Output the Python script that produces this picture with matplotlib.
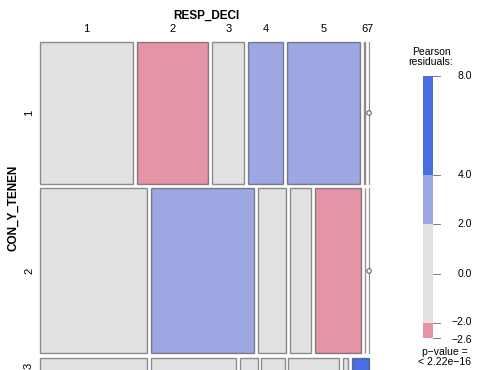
import matplotlib
matplotlib.use("Agg")
import matplotlib.pyplot as plt
from matplotlib.patches import Rectangle, Circle
import numpy as np

plt.rcParams["font.family"] = ["Liberation Sans", "DejaVu Sans"]

# ---- data ----
row_labels = ["1", "2", "3"]          # CON_Y_TENEN
col_labels = ["1", "2", "3", "4", "5", "6", "7"]   # RESP_DECI
counts_r1 = [930, 710, 320, 350, 730, 10, 0]
counts_r2 = [1237, 1203, 324, 243, 532, 6, 0]
counts_r3 = [120, 96, 20, 26, 57, 6, 19]
resid_r1 = [0.5, -2.3, 1.0, 3.0, 3.5, 0.1, -0.5]
resid_r2 = [0.5, 3.0, 0.2, 0.3, -2.3, 0.0, -0.5]
resid_r3 = [0.0, 0.0, 0.5, 1.0, 0.5, 1.5, 8.0]
legend_breaks = [8.0, 4.0, 2.0, 0.0, -2.0, -2.6]
legend_min, legend_max = -2.6, 8.0
p_text = "p\u2212value =\n< 2.22e\u221216"

counts = [counts_r1, counts_r2, counts_r3]
resids = [resid_r1, resid_r2, resid_r3]

COL_HI = "#4A6FE3"
COL_MID = "#9DA8E2"
COL_NEU = "#E2E2E2"
COL_NEG = "#E495A5"
COL_NEGHI = "#D33F6A"


def shade(r):
    if r > 4:
        return COL_HI
    if r > 2:
        return COL_MID
    if r < -4:
        return COL_NEGHI
    if r < -2:
        return COL_NEG
    return COL_NEU


W, H = 478, 370
fig = plt.figure(figsize=(W / 100, H / 100), dpi=100)
ax = fig.add_axes([0, 0, 1, 1])
ax.set_xlim(0, W)
ax.set_ylim(H, 0)
ax.axis("off")

# layout of mosaic region (pixels)
x0, x1 = 40.0, 369.0
y0, y1 = 42.0, 374.0
row_gap = 4.5
col_gap = 3.85
ncol = len(col_labels)
nrow = len(row_labels)

row_tot = np.array([sum(r) for r in counts], dtype=float)
avail_h = (y1 - y0) - row_gap * (nrow - 1)
avail_w = (x1 - x0) - col_gap * (ncol - 1)

edge = (0, 0, 0, 0.42)
y = y0
first_row_centers = []
for i in range(nrow):
    h = avail_h * row_tot[i] / row_tot.sum()
    x = x0
    for j in range(ncol):
        w = avail_w * counts[i][j] / row_tot[i]
        if counts[i][j] == 0:
            ax.plot([x, x], [y, y + h], color=edge, lw=0.9)
            ax.add_patch(Circle((x, y + h / 2), 2.2, facecolor="white",
                                edgecolor=(0, 0, 0, 0.6), lw=0.8, zorder=3))
        else:
            ax.add_patch(Rectangle((x, y), w, h, facecolor=shade(resids[i][j]),
                                   edgecolor=edge, lw=1.0))
        if i == 0:
            first_row_centers.append(x + w / 2)
        x += w + col_gap
    ax.text(29, y + h / 2, row_labels[i], rotation=90, ha="center",
            va="center", fontsize=8)
    y += h + row_gap

for j, c in enumerate(first_row_centers):
    ax.text(c, 29, col_labels[j], ha="center", va="center", fontsize=8)

ax.text((x0 + x1) / 2 + 2, 15.5, "RESP_DECI", ha="center", va="center",
        fontsize=8.5, fontweight="bold")
ax.text(13, (y0 + y1) / 2, "CON_Y_TENEN", ha="center", va="center",
        rotation=90, fontsize=8.5, fontweight="bold")

# legend
lx0, lx1 = 423, 433
ly_top, ly_bot = 76, 338


def ly(v):
    return ly_top + (legend_max - v) / (legend_max - legend_min) * (ly_bot - ly_top)


segs = [(4.0, 8.0, COL_HI), (2.0, 4.0, COL_MID), (-2.0, 2.0, COL_NEU),
        (-2.6, -2.0, COL_NEG)]
for lo, hi, col in segs:
    ax.add_patch(Rectangle((lx0, ly(hi)), lx1 - lx0, ly(lo) - ly(hi),
                           facecolor=col, edgecolor="none"))
for b in legend_breaks:
    yy = ly(b)
    ax.plot([lx1, lx1 + 7], [yy, yy], color="#666666", lw=0.6)
    ax.text(472, yy + (2 if b == -2.6 else 0) - (1 if b == -2.0 else 0),
            f"{b:.1f}".replace("-", "\u2212"), ha="right", va="center",
            fontsize=7.5)
ax.text(431, 57, "Pearson\nresiduals:", ha="center", va="center",
        fontsize=7.5, linespacing=0.95)
ax.text(445, 357, p_text, ha="center", va="center", fontsize=7.5,
        linespacing=0.95)

fig.savefig("out.png", dpi=100)
